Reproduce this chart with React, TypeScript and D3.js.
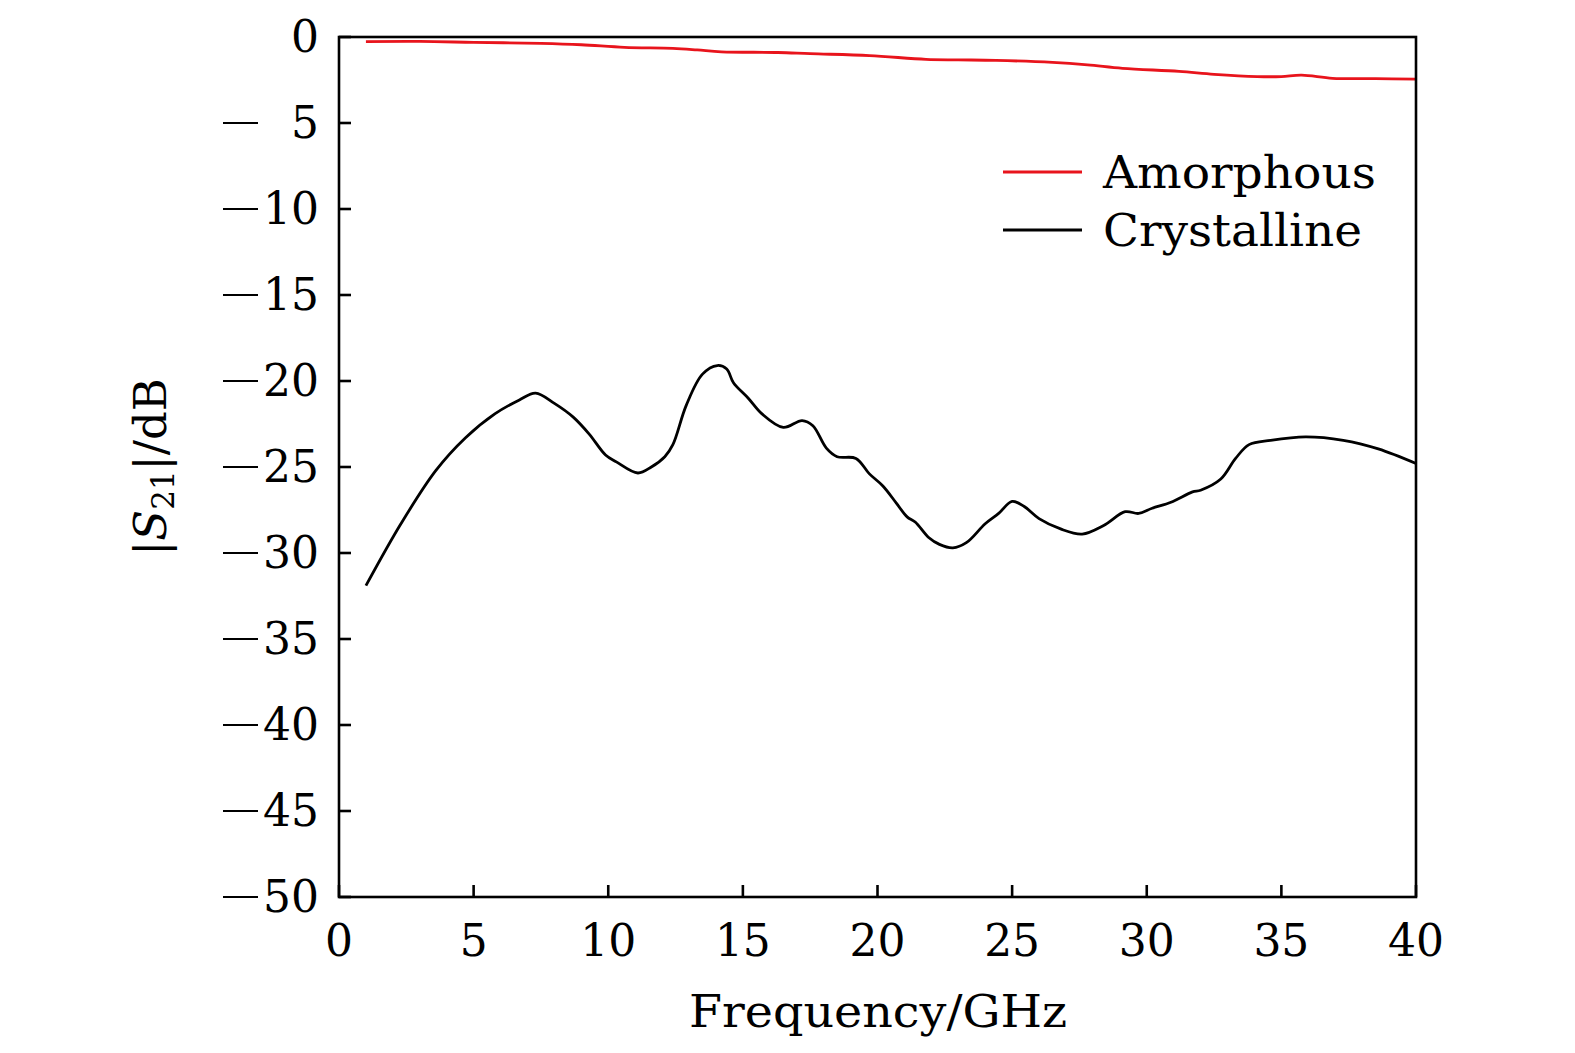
import * as d3 from 'd3'

const freqAmorphous = [1.0, 3.0, 5.0, 7.5, 9.0, 10.6, 12.4, 13.3, 14.2, 16.3, 17.5, 19.7, 21.8, 23.0, 24.4, 26.5, 27.8, 29.1, 31.2, 32.5, 34.1, 35.0, 35.75, 36.9, 38.5, 40.0]
const s21Amorphous = [-0.27, -0.26, -0.31, -0.37, -0.45, -0.6, -0.66, -0.75, -0.86, -0.9, -0.97, -1.08, -1.3, -1.33, -1.36, -1.48, -1.62, -1.82, -2.0, -2.17, -2.3, -2.3, -2.22, -2.4, -2.42, -2.45]

const freqCrystalline = [
  1.0, 2.3, 3.6, 4.7, 5.8, 6.7, 7.3, 8.0, 8.7, 9.3, 9.9, 10.3, 11.1, 11.6, 12.1, 12.4, 12.9, 13.5, 14.05, 14.4,
  14.65, 15.2, 15.7, 16.5, 17.2, 17.6, 18.1, 18.5, 19.2, 19.7, 20.2, 20.7, 21.1, 21.4, 21.9, 22.3, 22.8, 23.3,
  24.0, 24.5, 25.0, 25.45, 26.0, 26.8, 27.6, 28.4, 29.2, 29.7, 30.2, 30.9, 31.7, 32.0, 32.75, 33.3, 33.8, 34.6,
  35.9, 37.3, 38.6, 40.0,
]
const s21Crystalline = [
  -31.9, -28.3, -25.2, -23.3, -21.9, -21.1, -20.7, -21.3, -22.1, -23.1, -24.3, -24.7, -25.35, -25.0, -24.4,
  -23.7, -21.4, -19.6, -19.1, -19.3, -20.1, -21.0, -21.9, -22.7, -22.3, -22.6, -23.9, -24.4, -24.5, -25.4,
  -26.1, -27.1, -27.9, -28.2, -29.1, -29.5, -29.7, -29.4, -28.3, -27.7, -27.0, -27.3, -28.0, -28.6, -28.9,
  -28.4, -27.6, -27.7, -27.4, -27.05, -26.45, -26.35, -25.7, -24.5, -23.7, -23.45, -23.25, -23.45, -23.95, -24.8,
]

const xTicks = [0, 5, 10, 15, 20, 25, 30, 35, 40]
const yTicks = [0, -5, -10, -15, -20, -25, -30, -35, -40, -45, -50]

const legendLabels = ['Amorphous', 'Crystalline']
const legendColors = ['#e8141c', '#000000']

const FONT = '"DejaVu Serif", "Liberation Serif", serif'

export default function App() {
  const width = 1575
  const height = 1053
  const plot = { left: 339, right: 1416, top: 37, bottom: 897 }

  const x = d3.scaleLinear().domain([0, 40]).range([plot.left, plot.right])
  const y = d3.scaleLinear().domain([-50, 0]).range([plot.bottom, plot.top])

  const line = d3
    .line<[number, number]>()
    .x(d => x(d[0]))
    .y(d => y(d[1]))
    .curve(d3.curveCatmullRom.alpha(0.5))

  const amorphous = freqAmorphous.map((f, i) => [f, s21Amorphous[i]] as [number, number])
  const crystalline = freqCrystalline.map((f, i) => [f, s21Crystalline[i]] as [number, number])

  const tickLen = 12

  return (
    <svg
      width={width}
      height={height}
      viewBox={`0 0 ${width} ${height}`}
      style={{ position: 'absolute', left: 0, top: 0, background: '#fff' }}
      fontFamily={FONT}
    >
      <rect x={0} y={0} width={width} height={height} fill="#fff" />

      {/* curves */}
      <path d={line(crystalline) ?? ''} fill="none" stroke="#000" strokeWidth={2.8} strokeLinejoin="round" />
      <path d={line(amorphous) ?? ''} fill="none" stroke={legendColors[0]} strokeWidth={2.8} strokeLinejoin="round" />

      {/* frame */}
      <rect
        x={plot.left}
        y={plot.top}
        width={plot.right - plot.left}
        height={plot.bottom - plot.top}
        fill="none"
        stroke="#000"
        strokeWidth={2.6}
      />

      {/* x ticks */}
      {xTicks.map(t => (
        <g key={`x-${t}`}>
          <line x1={x(t)} x2={x(t)} y1={plot.bottom} y2={plot.bottom - tickLen} stroke="#000" strokeWidth={2.6} />
          <text x={x(t)} y={956} textAnchor="middle" fontSize={44} fill="#000">
            {t}
          </text>
        </g>
      ))}

      {/* y ticks */}
      {yTicks.map(t => (
        <g key={`y-${t}`}>
          <line x1={plot.left} x2={plot.left + tickLen} y1={y(t)} y2={y(t)} stroke="#000" strokeWidth={2.6} />
          {t < 0 && <line x1={223} x2={258} y1={y(t)} y2={y(t)} stroke="#000" strokeWidth={2.2} />}
          <text x={319} y={y(t) + 15} textAnchor="end" fontSize={44} fill="#000">
            {Math.abs(t)}
          </text>
        </g>
      ))}

      {/* axis titles */}
      <text x={878} y={1027} textAnchor="middle" fontSize={45} fill="#000" textLength={378} lengthAdjust="spacingAndGlyphs">
        Frequency/GHz
      </text>
      <text
        transform={`translate(166, ${(plot.top + plot.bottom) / 2}) rotate(-90)`}
        textAnchor="middle"
        fontSize={45}
        fill="#000"
      >
        |<tspan fontStyle="italic">S</tspan>
        <tspan fontSize={31} dy={8}>21</tspan>
        <tspan dy={-8}>|/dB</tspan>
      </text>

      {/* legend */}
      {legendLabels.map((label, i) => {
        const ly = 172 + i * 58
        return (
          <g key={label}>
            <line x1={1003} x2={1082} y1={ly} y2={ly} stroke={legendColors[i]} strokeWidth={2.8} />
            <text
              x={1103}
              y={ly + 16}
              fontSize={45}
              fill="#000"
              textLength={i === 0 ? 273 : 259}
              lengthAdjust="spacingAndGlyphs"
            >
              {label}
            </text>
          </g>
        )
      })}
    </svg>
  )
}
